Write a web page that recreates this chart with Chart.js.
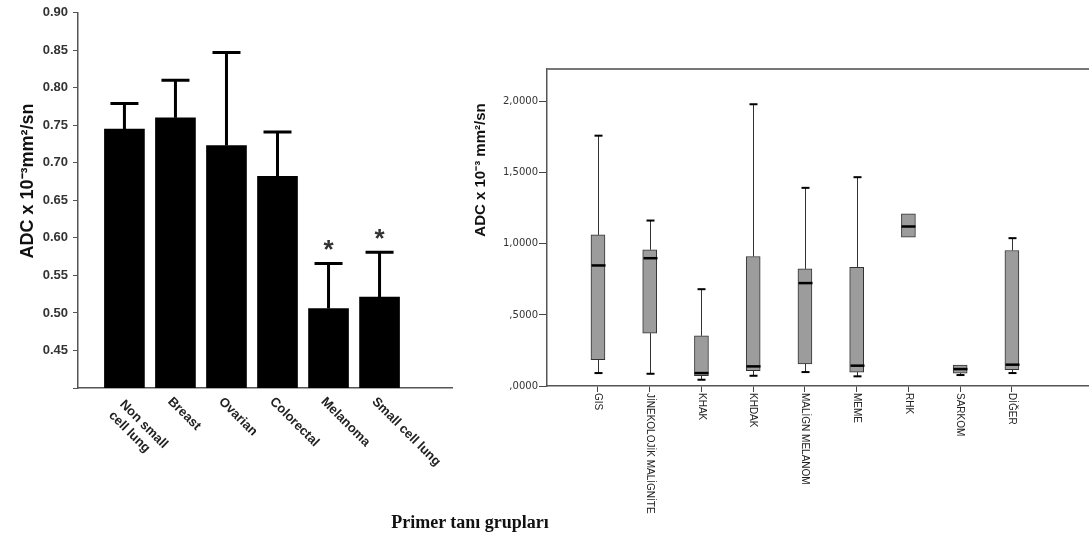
<!DOCTYPE html>
<html>
<head>
<meta charset="utf-8">
<script src="https://cdn.jsdelivr.net/npm/chart.js@4.4.1/dist/chart.umd.min.js"></script>
<style>
  html, body { margin: 0; padding: 0; background: #fff; overflow: hidden; }
  #left { position: absolute; left: 0; top: 0; }
  #right { position: absolute; left: 460px; top: 0; }
  #caption { position: absolute; left: 0; top: 512px; width: 940px; text-align: center;
             font: bold 18px "Liberation Serif", "Times New Roman", serif; color: #111; }
</style>
</head>
<body>
<canvas id="left" width="460" height="540"></canvas>
<canvas id="right" width="629" height="540"></canvas>
<div id="caption">Primer tanı grupları</div>
<script>
// left panel: mean ADC per primary tumour (bars + upper SD)
const groups = [['Non small', 'cell lung'], ['Breast'], ['Ovarian'], ['Colorectal'], ['Melanoma'], ['Small cell lung']];
const adcMean = [0.745, 0.760, 0.723, 0.682, 0.506, 0.521];
const adcUpper = [0.779, 0.810, 0.847, 0.741, 0.566, 0.581];
const significant = [false, false, false, false, true, true];
const leftTitle = 'ADC x 10⁻³mm²/sn';

// right panel: box plots per primary group
const boxGroups = ['GIS', 'JİNEKOLOJİK MALİGNİTE', 'KHAK', 'KHDAK', 'MALİGN MELANOM', 'MEME', 'RHK', 'SARKOM', 'DİĞER'];
const whiskerLow = [0.091, 0.086, 0.044, 0.072, 0.098, 0.068, 1.047, 0.077, 0.091];
const q1 = [0.185, 0.372, 0.072, 0.108, 0.155, 0.098, 1.047, 0.091, 0.115];
const median = [0.848, 0.899, 0.091, 0.138, 0.724, 0.143, 1.122, 0.119, 0.150];
const q3 = [1.063, 0.958, 0.353, 0.911, 0.824, 0.834, 1.211, 0.148, 0.953];
const whiskerHigh = [1.761, 1.164, 0.681, 1.982, 1.394, 1.469, 1.211, 0.148, 1.040];
const rightTitle = 'ADC x 10⁻³ mm²/sn';

function drawVTitle(ctx, text, cx, cy, font) {
  ctx.save();
  ctx.translate(cx, cy);
  ctx.rotate(-Math.PI / 2);
  ctx.font = font;
  ctx.fillStyle = '#111';
  ctx.textAlign = 'center';
  ctx.textBaseline = 'middle';
  ctx.fillText(text, 0, 0);
  ctx.restore();
}

const errorBars = {
  id: 'errorBars',
  afterDatasetsDraw(chart) {
    const {ctx, scales: {x, y}} = chart;
    ctx.save();
    ctx.strokeStyle = '#000';
    ctx.lineWidth = 3;
    adcMean.forEach((m, i) => {
      const px = x.getPixelForValue(i);
      const top = y.getPixelForValue(adcUpper[i]);
      ctx.beginPath();
      ctx.moveTo(px, y.getPixelForValue(m));
      ctx.lineTo(px, top);
      ctx.moveTo(px - 14, top);
      ctx.lineTo(px + 14, top);
      ctx.stroke();
      if (significant[i]) {
        ctx.fillStyle = '#333';
        ctx.font = 'bold 26px "Liberation Sans", Arial';
        ctx.textAlign = 'center';
        ctx.textBaseline = 'alphabetic';
        ctx.fillText('*', px, top - 20 + 0.57 * 26);
      }
    });
    // rotated category labels
    ctx.fillStyle = '#222';
    ctx.font = 'bold 13px "Liberation Sans", Arial';
    ctx.textAlign = 'left';
    ctx.textBaseline = 'top';
    groups.forEach((lines, i) => {
      ctx.save();
      ctx.translate(x.getPixelForValue(i) - 1, y.bottom + 7);
      ctx.rotate(Math.PI / 4);
      const shift = lines.length > 1 ? 4 : 0;
      lines.forEach((t, k) => ctx.fillText(t, shift, k * 15.5));
      ctx.restore();
    });
    ctx.restore();
    drawVTitle(ctx, leftTitle, 28, 181, 'bold 18px "Liberation Sans", Arial');
  }
};

new Chart(document.getElementById('left'), {
  type: 'bar',
  data: {
    datasets: [{
      data: adcMean.map((v, i) => ({x: i, y: v})),
      backgroundColor: '#000',
      borderWidth: 0,
      barThickness: 40
    }]
  },
  options: {
    responsive: false,
    animation: false,
    layout: {padding: {top: 11, right: 8, left: 0, bottom: 0}},
    plugins: {legend: {display: false}, tooltip: {enabled: false}},
    scales: {
      x: {
        type: 'linear',
        offset: false,
        min: -0.91,
        max: 6.42,
        afterBuildTicks: s => { s.ticks = groups.map((g, i) => ({value: i})); },
        afterFit: s => { s.height = 152; },
        grid: {display: false, offset: false},
        border: {display: true, color: '#555', width: 1.5},
        ticks: {display: false}
      },
      y: {
        min: 0.40,
        max: 0.90,
        afterFit: s => { s.width = 78; },
        ticks: {
          stepSize: 0.05,
          padding: 5,
          color: '#333',
          font: {family: '"Liberation Sans", Arial', size: 13, weight: 'bold'},
          callback: v => v < 0.42 ? '' : v.toFixed(2)
        },
        grid: {drawOnChartArea: false, tickLength: 5, color: '#555'},
        border: {display: true, color: '#555', width: 1.5}
      }
    }
  },
  plugins: [errorBars]
});

const boxPlot = {
  id: 'boxPlot',
  afterDatasetsDraw(chart) {
    const {ctx, chartArea, scales: {x, y}} = chart;
    ctx.save();
    boxGroups.forEach((g, i) => {
      const px = Math.round(x.getPixelForValue(i)) + 0.5;
      const segs = [];
      if (whiskerHigh[i] > q3[i]) segs.push([q3[i], whiskerHigh[i]]);
      if (whiskerLow[i] < q1[i]) segs.push([q1[i], whiskerLow[i]]);
      segs.forEach(([from, to]) => {
        ctx.strokeStyle = '#333';
        ctx.lineWidth = 1;
        ctx.beginPath();
        ctx.moveTo(px, y.getPixelForValue(from));
        ctx.lineTo(px, y.getPixelForValue(to));
        ctx.stroke();
        ctx.strokeStyle = '#000';
        ctx.lineWidth = 2;
        ctx.beginPath();
        ctx.moveTo(px - 4, y.getPixelForValue(to));
        ctx.lineTo(px + 4, y.getPixelForValue(to));
        ctx.stroke();
      });
      ctx.strokeStyle = '#000';
      ctx.lineWidth = 2.5;
      ctx.beginPath();
      ctx.moveTo(px - 7, y.getPixelForValue(median[i]));
      ctx.lineTo(px + 7, y.getPixelForValue(median[i]));
      ctx.stroke();
    });
    // top frame line
    ctx.strokeStyle = '#777';
    ctx.lineWidth = 2;
    ctx.beginPath();
    ctx.moveTo(chartArea.left, chartArea.top);
    ctx.lineTo(chart.width, chartArea.top);
    ctx.stroke();
    // vertical category labels, reading top to bottom
    ctx.fillStyle = '#222';
    ctx.font = '10px "Liberation Sans", Arial';
    ctx.textAlign = 'left';
    ctx.textBaseline = 'middle';
    boxGroups.forEach((g, i) => {
      ctx.save();
      ctx.translate(x.getPixelForValue(i), y.bottom + 7);
      ctx.rotate(Math.PI / 2);
      ctx.fillText(g, 0, 0);
      ctx.restore();
    });
    ctx.restore();
    drawVTitle(ctx, rightTitle, 20.5, 170, 'bold 15px "Liberation Sans", Arial');
  }
};

new Chart(document.getElementById('right'), {
  type: 'bar',
  data: {
    datasets: [{
      data: boxGroups.map((g, i) => ({x: i, y: [q1[i], q3[i]]})),
      backgroundColor: '#9c9c9c',
      borderColor: '#333',
      borderWidth: 1,
      borderSkipped: false,
      barThickness: 14
    }]
  },
  options: {
    responsive: false,
    animation: false,
    layout: {padding: {top: 69, right: 0, left: 0, bottom: 0}},
    plugins: {legend: {display: false}, tooltip: {enabled: false}},
    scales: {
      x: {
        type: 'linear',
        offset: false,
        min: -0.985,
        max: 9.49,
        afterBuildTicks: s => { s.ticks = boxGroups.map((g, i) => ({value: i})); },
        afterFit: s => { s.height = 154; },
        grid: {display: true, offset: false, drawOnChartArea: false, tickLength: 6, color: '#444'},
        border: {display: true, color: '#555', width: 1.5},
        ticks: {display: false}
      },
      y: {
        min: 0,
        max: 2.23,
        afterBuildTicks: s => { s.ticks = s.ticks.filter(t => Math.abs(t.value * 2 - Math.round(t.value * 2)) < 1e-6); },
        afterFit: s => { s.width = 87; },
        ticks: {
          stepSize: 0.5,
          padding: 1,
          color: '#333',
          font: {family: '"DejaVu Sans", Arial', size: 10},
          callback: v => {
            const s = v.toFixed(4).replace('.', ',');
            return s.startsWith('0') ? s.slice(1) : s;
          }
        },
        grid: {drawOnChartArea: false, tickLength: 8, color: '#444'},
        border: {display: true, color: '#555', width: 1.5}
      }
    }
  },
  plugins: [boxPlot]
});
</script>
</body>
</html>
